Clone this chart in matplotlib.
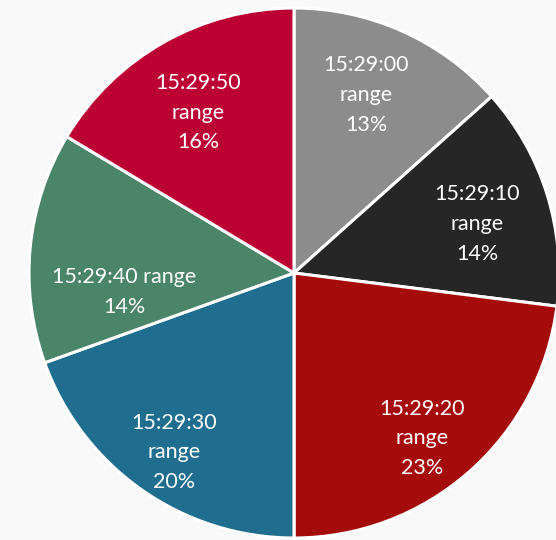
import numpy as np
import matplotlib.pyplot as plt

# ========== Data ==========
categories = ["15:29:00", "15:29:10", "15:29:20", "15:29:30", "15:29:40", "15:29:50"]
shares = [13.4, 13.6, 23.0, 19.5, 14.1, 16.4]
colors = ["#8C8C8C", "#262626", "#A50B0B", "#1F6E8F", "#4A8469", "#BD0033"]

# the 15:29:40 label fits on one line, the rest wrap
one_line = [False, False, False, False, True, False]
# label placement (fraction of radius, angular nudge in degrees)
label_radius = [0.725, 0.715, 0.79, 0.815, 0.645, 0.705]
label_nudge = [2.0, -2.3, -3.6, 1.3, 12.0, 1.3]

# ========== Figure ==========
W, H = 556, 540
cx, cy, R = 294, 273, 265  # pie centre / radius in pixels
bg = "#F9F9F9"

fig = plt.figure(figsize=(W / 100, H / 100), dpi=100, facecolor=bg)
ax = fig.add_axes([0, 0, 1, 1])
ax.set_facecolor(bg)

wedges, _ = ax.pie(shares, colors=colors, startangle=90, counterclock=False,
                   radius=1.0, wedgeprops=dict(edgecolor="white", linewidth=2.2))
ax.set_xlim(-cx / R, (W - cx) / R)
ax.set_ylim(-(H - cy) / R, cy / R)
ax.set_aspect("auto")
ax.axis("off")

for w, cat, v, single, r, nudge in zip(wedges, categories, shares, one_line,
                                       label_radius, label_nudge):
    sep = " " if single else "\n"
    txt = f"{cat}{sep}range\n{v:.0f}%"
    mid = np.deg2rad((w.theta1 + w.theta2) / 2 + nudge)
    ax.text(r * np.cos(mid), r * np.sin(mid), txt, ha="center", va="center",
            color="white", fontsize=15.5, family="Lato", linespacing=1.6)

fig.savefig("out.png", dpi=100, facecolor=bg)
